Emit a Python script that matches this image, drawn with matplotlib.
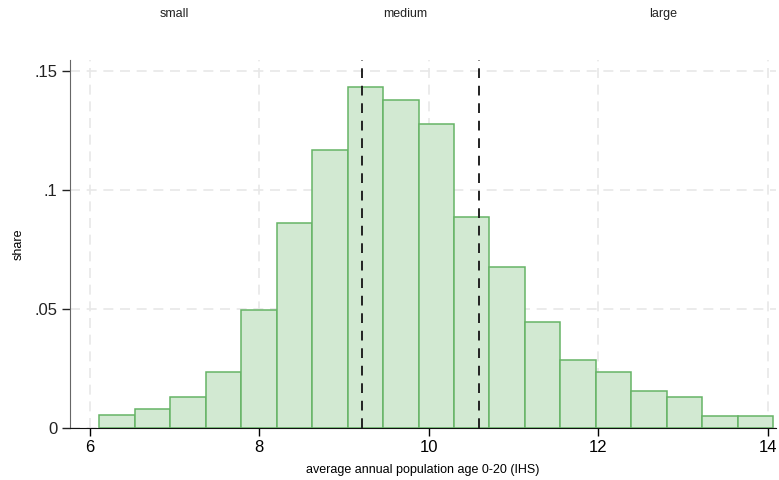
import numpy as np
import matplotlib
matplotlib.use("Agg")
import matplotlib.pyplot as plt

# histogram: bin edges and share per bin
bin_left = 6.11
bin_width = 0.4188
shares = [0.0053, 0.0080, 0.0130, 0.0235, 0.0494, 0.0860, 0.1169, 0.1431,
          0.1378, 0.1276, 0.0886, 0.0676, 0.0443, 0.0287, 0.0234, 0.0157,
          0.0130, 0.0052, 0.0052]
cutoffs = [9.207, 10.597]
group_labels = ["small", "medium", "large"]
group_pos = [7.0, 9.72, 12.77]
xticks = [6, 8, 10, 12, 14]
yticks = [0, 0.05, 0.1, 0.15]
ytick_labels = ["0", ".05", ".1", ".15"]

plt.rcParams["font.family"] = ["Liberation Sans", "DejaVu Sans"]

fig = plt.figure(figsize=(7.79, 4.80), dpi=100)
ax = fig.add_axes([70 / 779, 52 / 480, 706 / 779, 368 / 480])

lefts = bin_left + bin_width * np.arange(len(shares))
ax.bar(lefts, shares, width=bin_width, align="edge",
       color="#d2e9d2", edgecolor="#66b466", linewidth=1.1, zorder=2)

for c in cutoffs:
    ax.axvline(c, color="#222222", linestyle=(0, (5, 4)), linewidth=1.4, zorder=3)

ax.set_xlim(5.764, 14.10)
ax.set_ylim(0, 0.1545)

ax.set_xticks(xticks)
ax.set_xticklabels([str(t) for t in xticks])
ax.set_yticks(yticks)
ax.set_yticklabels(ytick_labels)
ax.tick_params(axis="both", direction="out", length=6, width=1, labelsize=12,
               pad=3)
ax.tick_params(axis="y", colors="#222222")

ax.grid(True, color="#e8e8e8", linestyle=(0, (6, 4)), linewidth=1.2, zorder=0)
ax.set_axisbelow(True)

for s in ["top", "right"]:
    ax.spines[s].set_visible(False)
ax.spines["left"].set_color("#666666")
ax.spines["bottom"].set_color("#111111")

ax.set_xlabel("average annual population age 0-20 (IHS)", fontsize=9, labelpad=6)
ax.set_ylabel("share", fontsize=9)
ax.yaxis.set_label_coords((25 - 70) / 706, 0.5)

# group labels above the plot area
for lab, xp in zip(group_labels, group_pos):
    ax.text(xp, 1 + (60 - 14) / 368, lab, transform=ax.get_xaxis_transform(),
            ha="center", va="center", fontsize=9, color="#222222")

fig.savefig("out.png", dpi=100)
